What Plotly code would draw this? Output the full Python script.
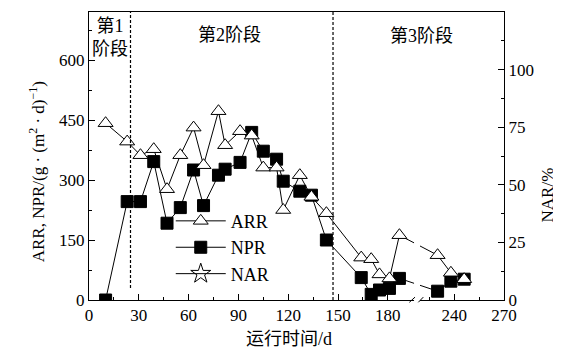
import plotly.graph_objects as go

# ---- data ----
days = [10, 23, 31, 39, 47, 55, 63, 69, 78, 82, 91, 98, 105, 113, 117, 127, 134, 143,
        164, 170, 175, 181, 187, 230, 238, 246]
arr = [442, 396, 362, 377, 277, 362, 431, 337, 472, 387, 422, 411, 331, 331, 225, 312, 258, 217,
       106, 102, 64, 54, 162, 112, 68, 52]
npr = [0, 246, 246, 346, 192, 231, 325, 236, 312, 327, 344, 419, 372, 352, 297, 272, 262, 150,
       56, 14, 25, 29, 54, 22, 47, 52]
x_ticks = [0, 30, 60, 90, 120, 150, 180, 240, 270]
x_minor = [15, 45, 75, 105, 135, 165, 225, 255]
left_ticks = [0, 150, 300, 450, 600]
right_ticks = [0, 25, 50, 75, 100]
phase_bounds = [25, 147]
phase_labels = ["第1<br>阶段", "第2阶段", "第3阶段"]

# broken x axis: days 200-220 are cut out
BREAK_LO, BREAK_HI = 200, 220


def disp(d):
    return d if d <= BREAK_LO else d - (BREAK_HI - BREAK_LO)


xd = [disp(d) for d in days]

FONT = "Liberation Serif, Noto Sans CJK SC, serif"

fig = go.Figure()
fig.add_trace(go.Scatter(
    x=xd, y=npr, name="NPR", mode="lines+markers", legendrank=2,
    line=dict(color="black", width=1),
    marker=dict(symbol="square", size=12, color="black", line=dict(color="black", width=1)),
))
fig.add_trace(go.Scatter(
    x=xd, y=arr, name="ARR", mode="lines+markers", legendrank=1,
    line=dict(color="black", width=1),
    marker=dict(symbol="triangle-up", size=13, color="white", line=dict(color="black", width=1)),
))
fig.add_trace(go.Scatter(
    x=[None], y=[None], name="NAR", mode="lines+markers", yaxis="y2", legendrank=3,
    line=dict(color="black", width=1),
    marker=dict(symbol="star-open", size=15, color="black", line=dict(color="black", width=1)),
))

shapes = []
# phase boundaries
shapes.append(dict(type="line", xref="x", yref="y", x0=phase_bounds[0], x1=phase_bounds[0],
                   y0=30, y1=720, line=dict(color="black", width=1.2, dash="3px,2px")))
shapes.append(dict(type="line", xref="x", yref="y", x0=phase_bounds[1], x1=phase_bounds[1],
                   y0=0, y1=720, line=dict(color="black", width=1.2, dash="3px,2px")))
# axis break gap and marks
shapes.append(dict(type="rect", xref="x", yref="paper", x0=195.8, x1=199.4, y0=-0.012, y1=0.3,
                   fillcolor="white", line=dict(width=0), layer="above"))
for a, b in [(193.0, 196.4), (198.4, 201.4)]:
    shapes.append(dict(type="line", xref="x", yref="paper", x0=a, x1=b, y0=-0.008, y1=0.01,
                       line=dict(color="black", width=1), layer="above"))

annotations = [
    dict(text=phase_labels[0], x=12.6, y=0.911, xref="x", yref="paper", showarrow=False,
         font=dict(size=18, family=FONT, color="black"), xanchor="center", yanchor="middle"),
    dict(text=phase_labels[1], x=84.6, y=0.92, xref="x", yref="paper", showarrow=False,
         font=dict(size=18, family=FONT, color="black"), xanchor="center", yanchor="middle"),
    dict(text=phase_labels[2], x=200.4, y=0.917, xref="x", yref="paper", showarrow=False,
         font=dict(size=18, family=FONT, color="black"), xanchor="center", yanchor="middle"),
    dict(text="运行时间/d", x=0.482, y=-0.135, xref="paper", yref="paper", showarrow=False,
         font=dict(size=18, family=FONT, color="black"), xanchor="center", yanchor="middle"),
    dict(text="ARR, NPR/(g · (m<sup>2</sup> · d)<sup>−1</sup>)", x=-0.125, y=0.444,
         xref="paper", yref="paper", showarrow=False, textangle=-90,
         font=dict(size=17, family=FONT, color="black"), xanchor="center", yanchor="middle"),
    dict(text="NAR/%", x=1.105, y=0.365, xref="paper", yref="paper", showarrow=False,
         textangle=-90, font=dict(size=17, family=FONT, color="black"),
         xanchor="center", yanchor="middle"),
]

fig.update_layout(
    width=561, height=354,
    margin=dict(l=81, r=65, t=4, b=62),
    paper_bgcolor="white", plot_bgcolor="white",
    font=dict(family=FONT, size=17, color="black"),
    showlegend=True,
    legend=dict(x=0.197, y=0.338, xanchor="left", yanchor="top", bgcolor="rgba(0,0,0,0)",
                font=dict(size=18, family=FONT, color="black"), traceorder="normal",
                itemwidth=50),
    xaxis=dict(range=[0, 250], tickmode="array", tickvals=[disp(v) for v in x_ticks],
               ticktext=[str(v) for v in x_ticks], ticks="inside", ticklen=6, tickwidth=1,
               tickcolor="black", showline=True, linecolor="black", linewidth=1, mirror=True,
               showgrid=False, zeroline=False,
               minor=dict(tickvals=[disp(v) for v in x_minor], ticks="inside", ticklen=3,
                          tickcolor="black", tickwidth=1)),
    yaxis=dict(range=[0, 720], tickmode="array", tickvals=left_ticks, ticks="inside",
               ticklen=6, tickwidth=1, tickcolor="black", showline=True, linecolor="black",
               linewidth=1, showgrid=False, zeroline=False,
               minor=dict(dtick=75, ticks="inside", ticklen=3, tickcolor="black", tickwidth=1)),
    yaxis2=dict(range=[0, 125], overlaying="y", side="right", tickmode="array",
                tickvals=right_ticks, ticks="inside", ticklen=6, tickwidth=1, tickcolor="black",
                showline=True, linecolor="black", linewidth=1, showgrid=False, zeroline=False,
                minor=dict(dtick=12.5, ticks="inside", ticklen=3, tickcolor="black", tickwidth=1)),
    shapes=shapes,
    annotations=annotations,
)

fig.write_html("out.html")
